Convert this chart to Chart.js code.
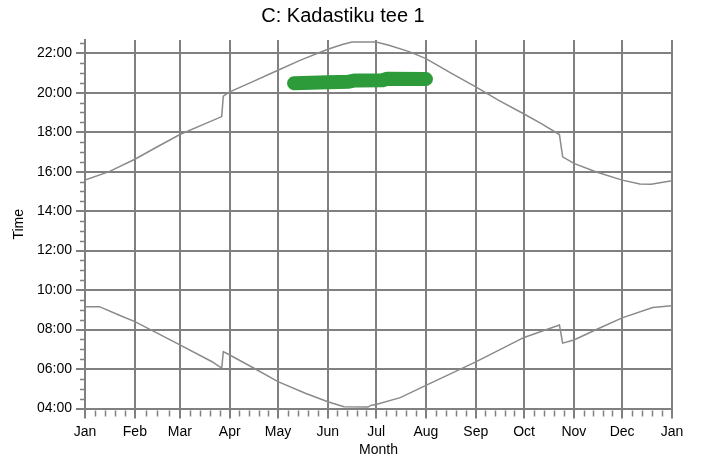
<!DOCTYPE html>
<html>
<head>
<meta charset="utf-8">
<script src="https://cdn.jsdelivr.net/npm/chart.js@4/dist/chart.umd.min.js"></script>
<style>
  html, body { margin: 0; padding: 0; background: #ffffff; }
  #wrap { width: 701px; height: 462px; }
</style>
</head>
<body>
<div id="wrap"><canvas id="c" width="701" height="462"></canvas></div>
<script>
// ---- data ----
const monthStartDays = [0, 31, 59, 90, 120, 151, 181, 212, 243, 273, 304, 334, 365];
const monthLabels = ['Jan', 'Feb', 'Mar', 'Apr', 'May', 'Jun', 'Jul', 'Aug', 'Sep', 'Oct', 'Nov', 'Dec', 'Jan'];
const yTickValues = [4, 6, 8, 10, 12, 14, 16, 18, 20, 22];
const yTickLabels = ['04:00', '06:00', '08:00', '10:00', '12:00', '14:00', '16:00', '18:00', '20:00', '22:00'];

// upper line (sunset), day of year -> hours
const sunsetDays  = [0, 15, 31, 45, 59, 73, 85, 86, 90, 104, 120, 134, 151, 160, 166, 181, 189, 202, 212, 229, 243, 257, 273, 284, 295, 297, 304, 318, 334, 345, 352, 364, 365];
const sunsetTimes = [15.57, 16.0, 16.63, 17.26, 17.88, 18.37, 18.79, 19.82, 20.04, 20.55, 21.14, 21.65, 22.2, 22.44, 22.57, 22.57, 22.4, 22.07, 21.73, 20.93, 20.3, 19.62, 18.92, 18.42, 17.88, 16.75, 16.42, 15.98, 15.57, 15.37, 15.36, 15.53, 15.55];

// lower line (sunrise)
const sunriseDays  = [0, 9, 21, 31, 44, 59, 79, 85, 86, 90, 104, 120, 137, 151, 161, 176, 178, 181, 196, 212, 243, 273, 295, 297, 304, 318, 334, 353, 365];
const sunriseTimes = [9.16, 9.16, 8.74, 8.40, 7.86, 7.22, 6.37, 6.04, 6.88, 6.71, 6.09, 5.36, 4.77, 4.34, 4.09, 4.07, 4.17, 4.2, 4.55, 5.17, 6.36, 7.6, 8.23, 7.31, 7.47, 8.0, 8.59, 9.12, 9.2];

// green band
const eventDays  = [130, 151, 164, 168, 185, 188, 212];
const eventTimes = [20.48, 20.53, 20.56, 20.62, 20.63, 20.71, 20.69];

const titleText = 'C: Kadastiku tee 1';
const xTitle = 'Month';
const yTitle = 'Time';

// ---- drawing ----
const GRID = '#808080';
const FONT = "'Liberation Sans', Arial, sans-serif";

const toXY = (xs, ys) => xs.map((x, i) => ({ x: x, y: ys[i] }));

const minorTicks = {
  id: 'minorTicks',
  afterDraw(chart) {
    const ctx = chart.ctx;
    const xs = chart.scales.x, ys = chart.scales.y;
    const area = chart.chartArea;
    ctx.save();
    ctx.strokeStyle = GRID;
    ctx.lineWidth = 1.5;
    ctx.beginPath();
    for (let i = 0; i < monthStartDays.length - 1; i++) {
      const s = monthStartDays[i], e = monthStartDays[i + 1];
      const n = (e - s) >= 30 ? 5 : 4;
      for (let k = 1; k < n; k++) {
        const px = Math.round(xs.getPixelForValue(s + k * (e - s) / n)) + 0.5;
        ctx.moveTo(px, area.bottom + 2);
        ctx.lineTo(px, area.bottom + 8);
      }
    }
    for (let v = ys.min; v <= ys.max + 1e-6; v += 0.5) {
      if (yTickValues.includes(v)) continue;
      const py = Math.round(ys.getPixelForValue(v)) + 0.5;
      ctx.moveTo(area.left - 5, py);
      ctx.lineTo(area.left, py);
    }
    ctx.stroke();
    ctx.restore();
  }
};

new Chart(document.getElementById('c'), {
  type: 'line',
  data: {
    datasets: [
      {
        data: toXY(eventDays, eventTimes),
        borderColor: '#2e9b3a',
        backgroundColor: '#2e9b3a',
        borderWidth: 14,
        borderCapStyle: 'round',
        borderJoinStyle: 'round',
        pointRadius: 0,
        tension: 0
      },
      {
        data: toXY(sunsetDays, sunsetTimes),
        borderColor: '#8a8a8a',
        borderWidth: 1.5,
        pointRadius: 0,
        tension: 0
      },
      {
        data: toXY(sunriseDays, sunriseTimes),
        borderColor: '#8a8a8a',
        borderWidth: 1.5,
        pointRadius: 0,
        tension: 0
      }
    ]
  },
  options: {
    responsive: false,
    animation: false,
    events: [],
    layout: { padding: { left: 14, right: 29, top: 0, bottom: 0 } },
    plugins: {
      legend: { display: false },
      tooltip: { enabled: false },
      title: {
        display: true,
        text: titleText,
        color: '#000000',
        font: { family: FONT, size: 20, weight: 'normal' },
        padding: { top: 4, bottom: 12 }
      }
    },
    scales: {
      x: {
        type: 'linear',
        min: 0,
        max: 365,
        afterBuildTicks(scale) { scale.ticks = monthStartDays.map(v => ({ value: v })); },
        afterFit(scale) { scale.height = 53.5; },
        ticks: {
          autoSkip: false,
          maxRotation: 0,
          color: '#000000',
          padding: 5,
          font: { family: FONT, size: 14 },
          callback: (v, i) => monthLabels[i]
        },
        grid: { color: GRID, lineWidth: 2, tickLength: 10, tickColor: GRID },
        border: { display: true, color: GRID, width: 2 },
        title: {
          display: true,
          text: xTitle,
          color: '#000000',
          font: { family: FONT, size: 14 },
          padding: { top: 0, bottom: 3.6 }
        }
      },
      y: {
        type: 'linear',
        min: 4,
        max: 22.67,
        afterBuildTicks(scale) { scale.ticks = yTickValues.map(v => ({ value: v })); },
        afterFit(scale) { scale.width = 71; },
        ticks: {
          autoSkip: false,
          color: '#000000',
          padding: 4,
          font: { family: FONT, size: 14 },
          callback: (v, i) => yTickLabels[i]
        },
        grid: { color: GRID, lineWidth: 2, tickLength: 9, tickColor: GRID },
        border: { display: true, color: GRID, width: 2 },
        title: {
          display: true,
          text: yTitle,
          color: '#000000',
          font: { family: FONT, size: 14 },
          padding: { top: -3.4, bottom: 0 }
        }
      }
    }
  },
  plugins: [minorTicks]
});
</script>
</body>
</html>
